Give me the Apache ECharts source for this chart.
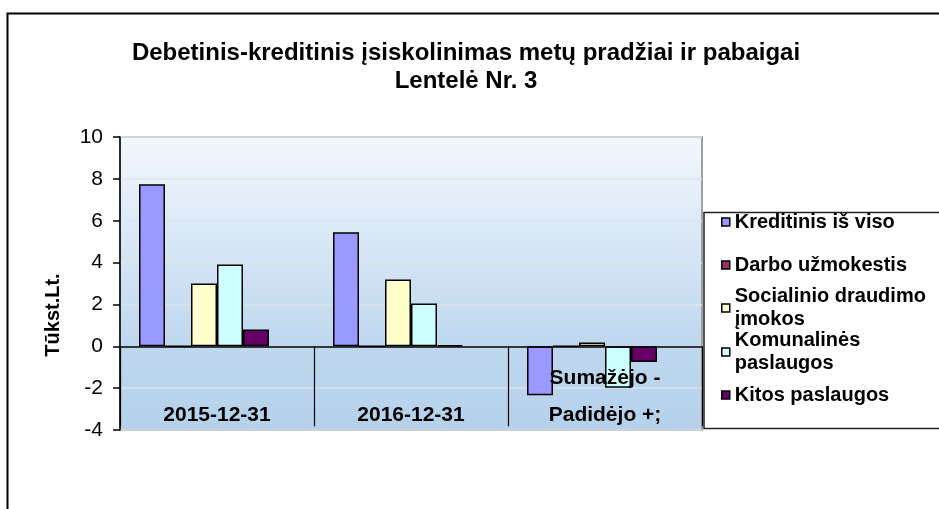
<!DOCTYPE html>
<html>
<head>
<meta charset="utf-8">
<script src="https://cdn.jsdelivr.net/npm/echarts@6/dist/echarts.min.js"></script>
<style>html,body{margin:0;padding:0;background:#fff}#c{width:939px;height:509px}</style>
</head>
<body>
<div id="c"></div>
<script>
const categories = ['2015-12-31', '2016-12-31', 'Sumažėjo -\nPadidėjo +;'];
const seriesNames = ['Kreditinis iš viso', 'Darbo užmokestis', 'Socialinio draudimo\nįmokos', 'Komunalinės\npaslaugos', 'Kitos paslaugos'];
const kreditinis = [7.74, 5.45, -2.34];
const darbo = [0, 0, 0];
const socialinio = [3.0, 3.19, 0.18];
const komunalines = [3.91, 2.04, -1.98];
const kitos = [0.8, 0.06, -0.75];
const blankSeries = [null, null, null];
const yTicks = { min: -4, max: 10, interval: 2 };
const titleText = 'Debetinis-kreditinis įsiskolinimas metų pradžiai ir pabaigai\nLentelė Nr. 3';
const yAxisName = 'Tūkst.Lt.';

const colors = ['#9999ff', '#993366', '#ffffcc', '#ccffff', '#660066'];
const values = [kreditinis, darbo, socialinio, komunalines, kitos];
const FONT = '"Liberation Sans", Arial, sans-serif';

const series = values.map((v, i) => ({
  name: seriesNames[i],
  type: 'bar',
  data: v,
  barWidth: 26,
  barGap: '0%',
  itemStyle: { color: colors[i], borderColor: '#000', borderWidth: 1.5 },
  emphasis: { disabled: true }
}));
series.push({ name: '', type: 'bar', data: blankSeries, barWidth: 26, barGap: '0%' });

const legendCenters = [222, 265, 308, 352, 395];
const LH = 23;
const legends = seriesNames.map((n, i) => {
  const twoLine = n.indexOf('\n') >= 0;
  return {
    data: [{ name: n, textStyle: twoLine ? { padding: [LH, 0, 0, 0] } : {} }],
    left: 721,
    top: legendCenters[i] - (twoLine ? 1.5 * LH : 0.5 * LH),
    padding: 0,
    orient: 'vertical',
    itemWidth: 8,
    itemHeight: 8,
    icon: 'rect',
    selectedMode: false,
    itemStyle: { borderColor: '#000', borderWidth: 1.5 },
    textStyle: { fontFamily: FONT, fontSize: 20, fontWeight: 'bold', color: '#000', lineHeight: LH }
  };
});

const chart = echarts.init(document.getElementById('c'), null, { renderer: 'canvas' });
chart.setOption({
  animation: false,
  backgroundColor: '#fff',
  title: {
    text: titleText,
    left: 466,
    top: 39,
    padding: 0,
    textAlign: 'center',
    textStyle: { fontFamily: FONT, fontSize: 24, fontWeight: 'bold', color: '#000', lineHeight: 28 }
  },
  legend: legends,
  graphic: [
    { type: 'rect', z: 100, silent: true, shape: { x: 7.5, y: 13.5, width: 1000, height: 600 }, style: { fill: 'none', stroke: '#000', lineWidth: 2 } },
    { type: 'rect', z: 1, silent: true, shape: { x: 704, y: 212.5, width: 300, height: 216 }, style: { fill: '#fff', stroke: '#222', lineWidth: 1.5 } }
  ],
  grid: {
    left: 120, top: 137, right: 237, bottom: 79,
    outerBoundsMode: 'none',
    containLabel: false,
    show: true,
    borderColor: '#a0a0a0',
    borderWidth: 2,
    backgroundColor: new echarts.graphic.LinearGradient(0, 0, 0, 1, [
      { offset: 0, color: '#f3f7fc' },
      { offset: 0.71, color: '#bed7ee' },
      { offset: 1, color: '#b5d1ea' }
    ])
  },
  xAxis: {
    type: 'category',
    data: categories,
    z: 5,
    axisLine: { onZero: true, lineStyle: { color: '#000', width: 1.5 } },
    axisTick: { show: true, interval: 0, alignWithLabel: false, length: 80, lineStyle: { color: '#000', width: 1.2 } },
    axisLabel: {
      interval: 0,
      margin: 3.5,
      verticalAlign: 'bottom',
      fontFamily: FONT, fontSize: 21, fontWeight: 'bold', color: '#000', lineHeight: 37
    },
    splitLine: { show: false }
  },
  yAxis: {
    type: 'value',
    min: yTicks.min, max: yTicks.max, interval: yTicks.interval,
    name: yAxisName,
    nameLocation: 'middle',
    nameRotate: 90,
    nameGap: 57,
    nameTextStyle: { fontFamily: FONT, fontSize: 20, fontWeight: 'bold', color: '#000', padding: [0, 63, 0, 0] },
    axisLine: { show: true, onZero: false, lineStyle: { color: '#000', width: 1.5 } },
    axisTick: { show: true, length: 7, lineStyle: { color: '#000', width: 1.5 } },
    axisLabel: { margin: 17, fontFamily: FONT, fontSize: 21, color: '#000' },
    splitLine: { show: true, lineStyle: { color: '#dbe4ee', width: 1.5 } }
  },
  series: series
});
</script>
</body>
</html>
